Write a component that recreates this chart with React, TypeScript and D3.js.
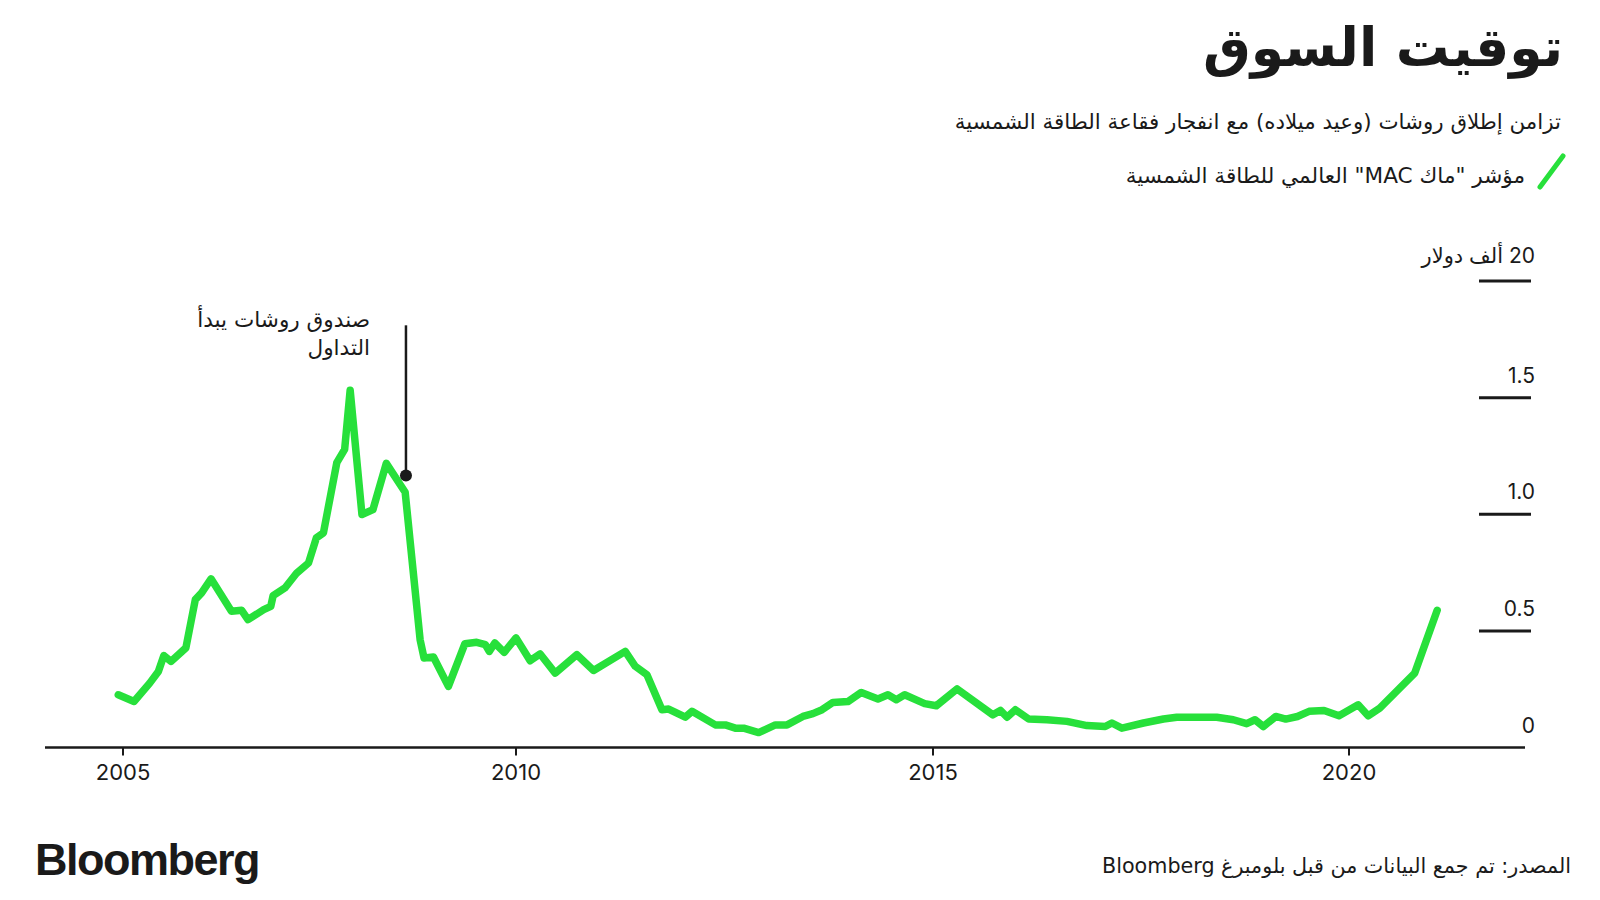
import React from "react";
import * as d3 from "d3";

// ---- data (decimal years / value in chart units) ----
const years: number[] = [
  2004.94, 2005.14, 2005.34, 2005.45, 2005.52, 2005.61, 2005.8, 2005.92, 2006.0, 2006.12,
  2006.38, 2006.51, 2006.59, 2006.79, 2006.88, 2006.91, 2007.06, 2007.21, 2007.36, 2007.46,
  2007.55, 2007.72, 2007.82, 2007.89, 2008.04, 2008.18, 2008.35, 2008.59, 2008.78, 2008.83,
  2008.95, 2009.14, 2009.35, 2009.5, 2009.61, 2009.66, 2009.73, 2009.85, 2010.0, 2010.17,
  2010.29, 2010.47, 2010.73, 2010.93, 2011.31, 2011.43, 2011.57, 2011.75, 2011.83, 2012.03,
  2012.11, 2012.39, 2012.51, 2012.63, 2012.73, 2012.91, 2013.11, 2013.25, 2013.44, 2013.56,
  2013.67, 2013.8, 2013.98, 2014.14, 2014.34, 2014.46, 2014.56, 2014.66, 2014.9, 2015.04,
  2015.29, 2015.72, 2015.81, 2015.89, 2015.99, 2016.15, 2016.37, 2016.61, 2016.85, 2017.07,
  2017.15, 2017.27, 2017.53, 2017.77, 2017.93, 2018.41, 2018.61, 2018.77, 2018.87, 2018.97,
  2019.12, 2019.24, 2019.38, 2019.52, 2019.7, 2019.88, 2020.11, 2020.23, 2020.37, 2020.79, 2021.06,
];
const macValues: number[] = [
  0.226, 0.197, 0.276, 0.326, 0.394, 0.369, 0.427, 0.634, 0.663, 0.723,
  0.584, 0.588, 0.548, 0.591, 0.605, 0.651, 0.684, 0.748, 0.791, 0.899,
  0.92, 1.221, 1.278, 1.532, 0.999, 1.02, 1.218, 1.094, 0.462, 0.384,
  0.388, 0.262, 0.445, 0.451, 0.441, 0.412, 0.448, 0.408, 0.47, 0.372,
  0.401, 0.319, 0.398, 0.33, 0.412, 0.348, 0.312, 0.162, 0.165, 0.13,
  0.155, 0.097, 0.097, 0.083, 0.083, 0.064, 0.097, 0.097, 0.133, 0.145,
  0.162, 0.193, 0.197, 0.236, 0.208, 0.226, 0.205, 0.226, 0.188, 0.179,
  0.251, 0.14, 0.159, 0.13, 0.162, 0.122, 0.119, 0.112, 0.094, 0.09,
  0.105, 0.083, 0.105, 0.122, 0.13, 0.13, 0.119, 0.102, 0.119, 0.09,
  0.133, 0.122, 0.133, 0.155, 0.159, 0.136, 0.183, 0.136, 0.169, 0.319, 0.588,
];
const xTickValues: number[] = [2005, 2010, 2015, 2020];
const xTickLabels: string[] = ["2005", "2010", "2015", "2020"];
const yTickValues: number[] = [0, 0.5, 1.0, 1.5, 2.0];
const yTickLabels: string[] = ["0", "0.5", "1.0", "1.5", "20 ألف دولار"];
const annotationPoint = { year: 2008.6, value: 1.166, top: 1.81 };
const annotationLines: string[] = ["صندوق روشات يبدأ", "التداول"];

const TITLE = "توقيت السوق";
const SUBTITLE = "تزامن إطلاق روشات (وعيد ميلاده) مع انفجار فقاعة الطاقة الشمسية";
const LEGEND = 'مؤشر "ماك MAC" العالمي للطاقة الشمسية';
const SOURCE = "المصدر: تم جمع البيانات من قبل بلومبرغ Bloomberg";

const GREEN = "#27e03b";
const INK = "#1a1a1a";
const FONT = "Inter, 'DejaVu Sans', sans-serif";
const AR_FONT = "'DejaVu Sans', sans-serif";

export default function App() {
  const x = d3.scaleLinear().domain([2005, 2010, 2015, 2020]).range([123, 516, 933, 1349]);
  const y = d3.scaleLinear().domain([0, 2]).range([747.5, 281]);

  const pts: [number, number][] = years.map((yr, i) => [yr, macValues[i]]);
  const line = d3
    .line<[number, number]>()
    .x((d) => x(d[0]))
    .y((d) => y(d[1]))
    .curve(d3.curveLinear);

  const axisY = y(0);

  return (
    <svg
      width={1600}
      height={900}
      style={{ position: "absolute", left: 0, top: 0, background: "#fff" }}
    >
      <rect x={0} y={0} width={1600} height={900} fill="#fff" />
      {/* Title */}
      <text
        x={1563}
        y={66}
        direction="rtl"
        textAnchor="start"
        fontFamily={AR_FONT}
        fontWeight={700}
        fontSize={53.5}
        fill={INK}
      >
        {TITLE}
      </text>
      <text
        x={1561}
        y={129}
        direction="rtl"
        textAnchor="start"
        fontFamily={AR_FONT}
        fontSize={21.4}
        fill={INK}
      >
        {SUBTITLE}
      </text>
      {/* Legend */}
      <line x1={1540} y1={187} x2={1563} y2={156} stroke={GREEN} strokeWidth={5} strokeLinecap="round" />
      <text
        x={1525}
        y={183}
        direction="rtl"
        textAnchor="start"
        fontFamily={AR_FONT}
        fontSize={21.6}
        fill={INK}
      >
        {LEGEND}
      </text>

      {/* Y ticks */}
      {yTickValues.map((v, i) => (
        <g key={"yt" + i}>
          {v > 0 && (
            <line x1={1479} x2={1531} y1={y(v)} y2={y(v)} stroke={INK} strokeWidth={3} />
          )}
          <text
            x={1535}
            y={y(v) - (v === 2 ? 18 : 15)}
            direction="rtl"
            textAnchor="start"
            fontFamily={FONT}
            fontSize={21}
            fill={INK}
          >
            {yTickLabels[i]}
          </text>
        </g>
      ))}

      {/* X axis */}
      <line x1={45} x2={1525} y1={axisY} y2={axisY} stroke={INK} strokeWidth={2.5} />
      {xTickValues.map((v, i) => (
        <g key={"xt" + i}>
          <line x1={x(v)} x2={x(v)} y1={axisY} y2={axisY + 8} stroke={INK} strokeWidth={2} />
          <text
            x={x(v)}
            y={780}
            textAnchor="middle"
            fontFamily={FONT}
            fontSize={22}
            fill={INK}
          >
            {xTickLabels[i]}
          </text>
        </g>
      ))}

      {/* Line */}
      <path
        d={line(pts) || ""}
        fill="none"
        stroke={GREEN}
        strokeWidth={7.5}
        strokeLinejoin="round"
        strokeLinecap="round"
      />

      {/* Annotation */}
      <line
        x1={x(annotationPoint.year)}
        x2={x(annotationPoint.year)}
        y1={y(annotationPoint.top)}
        y2={y(annotationPoint.value)}
        stroke={INK}
        strokeWidth={2.5}
      />
      <circle cx={x(annotationPoint.year)} cy={y(annotationPoint.value)} r={6} fill={INK} />
      {annotationLines.map((t, i) => (
        <text
          key={"an" + i}
          x={370}
          y={327 + i * 28}
          direction="rtl"
          textAnchor="start"
          fontFamily={AR_FONT}
          fontSize={21.6}
          fill={INK}
        >
          {t}
        </text>
      ))}

      {/* Footer */}
      <text
        x={35}
        y={875}
        fontFamily="'Liberation Sans', Arial, sans-serif"
        fontWeight={700}
        fontSize={45}
        letterSpacing={-1.5}
        fill={INK}
      >
        Bloomberg
      </text>
      <text
        x={1571}
        y={873}
        direction="rtl"
        textAnchor="start"
        fontFamily={AR_FONT}
        fontSize={20.7}
        fill={INK}
      >
        {SOURCE}
      </text>
    </svg>
  );
}
